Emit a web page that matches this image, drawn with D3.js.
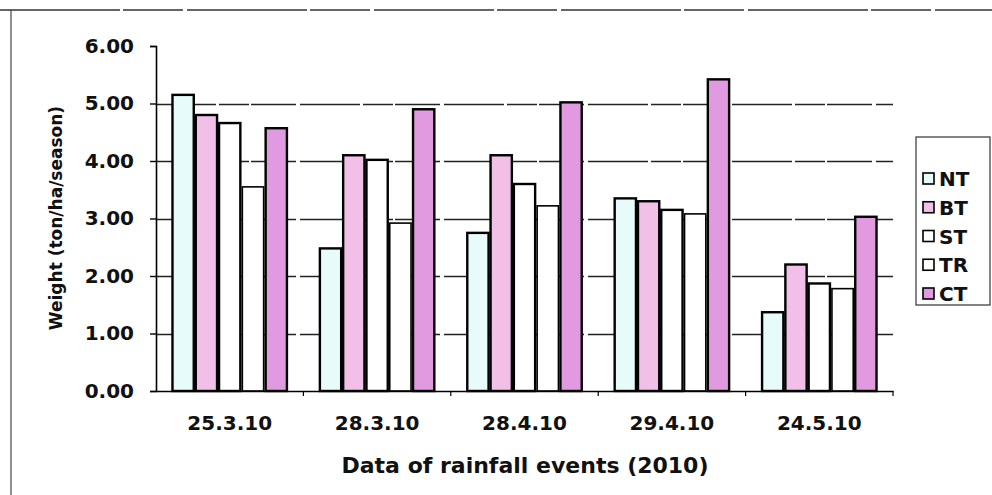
<!DOCTYPE html>
<html>
<head>
<meta charset="utf-8">
<script src="https://cdn.jsdelivr.net/npm/d3@7"></script>
<style>
  html, body { margin: 0; padding: 0; background: #fff; }
  svg { display: block; }
  text { font-family: "DejaVu Sans", sans-serif; font-weight: bold; fill: #111; }
</style>
</head>
<body>
<svg id="chart" width="992" height="495"></svg>
<script>
// Rainfall event dates (x categories)
const categories = ["25.3.10", "28.3.10", "28.4.10", "29.4.10", "24.5.10"];
// Treatments
const seriesNames = ["NT", "BT", "ST", "TR", "CT"];
// Weight (ton/ha/season) per treatment, one value per event
const NT = [5.15, 2.48, 2.75, 3.35, 1.37];
const BT = [4.80, 4.10, 4.10, 3.30, 2.20];
const ST = [4.66, 4.02, 3.60, 3.15, 1.87];
const TR = [3.55, 2.92, 3.22, 3.08, 1.78];
const CT = [4.57, 4.90, 5.02, 5.42, 3.03];
const yTicks = [0, 1, 2, 3, 4, 5, 6];

const seriesValues = { NT, BT, ST, TR, CT };
const colors = { NT: "#e6fbfa", BT: "#f2bfe9", ST: "#ffffff", TR: "#ffffff", CT: "#e19ae0" };

const svg = d3.select("#chart");
const m = { left: 156, right: 893, top: 46, bottom: 391 };

// Outer frame fragments
svg.append("line").attr("x1", 0).attr("x2", 992).attr("y1", 10).attr("y2", 10)
  .attr("stroke", "#333").attr("stroke-width", 1.4).attr("stroke-dasharray", "120,3,60,4");
svg.append("line").attr("x1", 11).attr("x2", 11).attr("y1", 10).attr("y2", 495)
  .attr("stroke", "#444").attr("stroke-width", 1.2);

const y = d3.scaleLinear().domain([0, 6]).range([m.bottom, m.top]);
const x0 = d3.scaleBand().domain(categories).range([m.left, m.right]).paddingInner(0.21).paddingOuter(0.105);
const x1 = d3.scaleBand().domain(seriesNames).range([0, x0.bandwidth()]);

// Gridlines
svg.append("g").selectAll("line").data(yTicks.filter(d => d > 0 && d < 6)).join("line")
  .attr("x1", m.left).attr("x2", m.right)
  .attr("y1", d => Math.round(y(d)) + 0.5).attr("y2", d => Math.round(y(d)) + 0.5)
  .attr("stroke", "#222").attr("stroke-width", 1.5).attr("stroke-dasharray", "60,3,30,2,45,4");

// Bars
const groups = svg.append("g").selectAll("g").data(categories).join("g")
  .attr("transform", d => `translate(${x0(d)},0)`);
groups.selectAll("rect")
  .data((c, i) => seriesNames.map(s => ({ s, v: seriesValues[s][i] })))
  .join("rect")
  .attr("x", d => x1(d.s) + 1)
  .attr("width", x1.bandwidth() - 2)
  .attr("y", d => y(d.v))
  .attr("height", d => y(0) - y(d.v))
  .attr("fill", d => colors[d.s])
  .attr("stroke", "#000")
  .attr("stroke-width", d => d.s === "TR" ? 1.6 : 2.4);

// Y axis
const yAxis = d3.axisLeft(y).tickValues(yTicks).tickFormat(d3.format(".2f")).tickSize(6).tickPadding(16);
const gy = svg.append("g").attr("transform", `translate(${m.left},0)`).call(yAxis);
gy.select(".domain").attr("stroke", "#000").attr("stroke-width", 1.6);
gy.selectAll(".tick line").attr("stroke", "#000").attr("stroke-width", 1.4);
gy.selectAll(".tick text").style("font-size", "20px").attr("font-family", null).attr("fill", "#111");

// X axis
const gx = svg.append("g").attr("transform", `translate(0,${m.bottom})`)
  .call(d3.axisBottom(x0).tickSize(0).tickPadding(25));
gx.select(".domain").attr("stroke", "#000").attr("stroke-width", 1.6);
gx.selectAll(".tick text").style("font-size", "20px").attr("font-family", null).attr("fill", "#111");
// Category separator ticks
svg.append("g").selectAll("line").data(d3.range(1, categories.length + 1)).join("line")
  .attr("x1", d => m.left + d * (m.right - m.left) / categories.length)
  .attr("x2", d => m.left + d * (m.right - m.left) / categories.length)
  .attr("y1", m.bottom).attr("y2", m.bottom + 5)
  .attr("stroke", "#000").attr("stroke-width", 1.2);

// Axis titles
svg.append("text").attr("transform", "translate(62,218) rotate(-90)")
  .attr("text-anchor", "middle").style("font-size", "17px").text("Weight (ton/ha/season)");
svg.append("text").attr("x", 525).attr("y", 473)
  .attr("text-anchor", "middle").style("font-size", "22px").text("Data of rainfall events (2010)");

// Legend
const lg = svg.append("g");
lg.append("rect").attr("x", 916).attr("y", 137).attr("width", 74).attr("height", 168)
  .attr("fill", "#fff").attr("stroke", "#333").attr("stroke-width", 1.2);
const ly = d3.scalePoint().domain(seriesNames).range([178, 293]);
const items = lg.selectAll("g").data(seriesNames).join("g")
  .attr("transform", d => `translate(0,${ly(d)})`);
items.append("rect").attr("x", 923).attr("y", -5).attr("width", 11).attr("height", 11)
  .attr("fill", d => colors[d]).attr("stroke", "#000").attr("stroke-width", 1.6);
items.append("text").attr("x", 939).attr("y", 8).style("font-size", "20px").text(d => d);
</script>
</body>
</html>
